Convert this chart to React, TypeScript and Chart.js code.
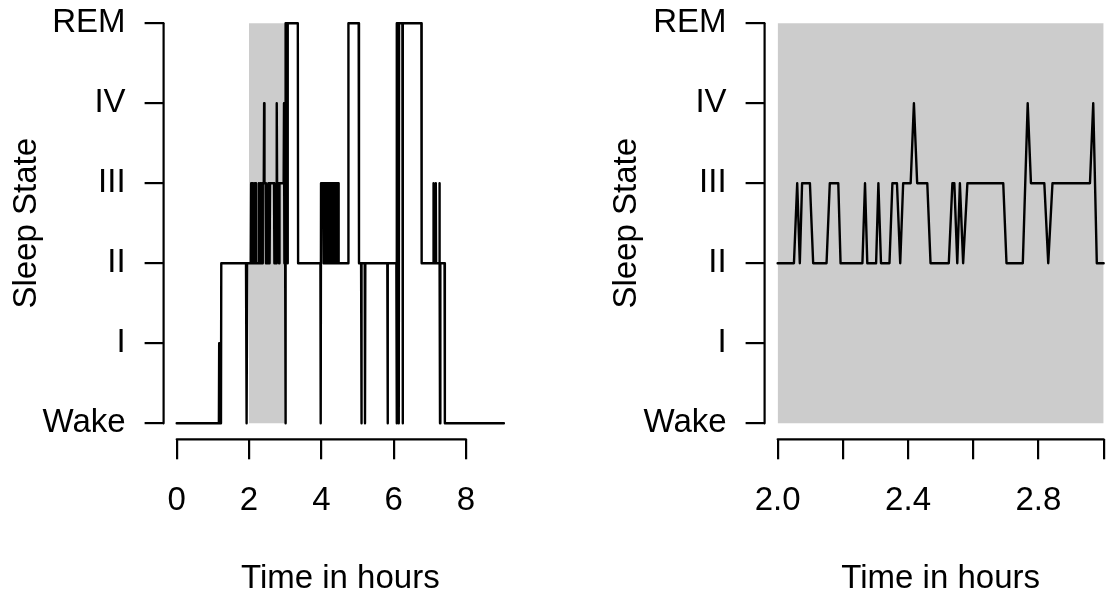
import React, { useEffect, useRef } from "react";
import { Chart, registerables } from "chart.js";

Chart.register(...registerables);

// ---------- data ----------
const stateLabels = ["Wake", "I", "II", "III", "IV", "REM"];
const leftXTicks = [0, 2, 4, 6, 8];
const leftXTickLabels = ["0", "2", "4", "6", "8"];
const rightXTicks = [2.0, 2.2, 2.4, 2.6, 2.8, 3.0];
const rightXTickLabels = ["2.0", "", "2.4", "", "2.8", ""];
const shadeWindow = [2, 3];
const xTitle = "Time in hours";
const yTitle = "Sleep State";

// hypnogram vertices: time (hours) and state index (0 = Wake ... 5 = REM)
const timesA = [0, 1.167, 1.175, 1.183, 1.225, 1.233, 1.917, 1.925, 1.942, 1.95];
const statesA = [0, 0, 1, 0, 0, 2, 2, 0, 0, 2];

const timesB = [
  2.0, 2.05, 2.06, 2.068, 2.075, 2.099, 2.109, 2.15, 2.16, 2.186, 2.193, 2.26,
  2.268, 2.275, 2.302, 2.309, 2.317, 2.343, 2.352, 2.366, 2.376, 2.385, 2.408,
  2.418, 2.428, 2.459, 2.469, 2.525, 2.536, 2.542, 2.551, 2.559, 2.569, 2.582,
  2.692, 2.702, 2.752, 2.767, 2.777, 2.818, 2.83, 2.843, 2.958, 2.968, 2.979, 3.0,
];
const statesB = [
  2, 2, 3, 2, 3, 3, 2, 2, 3, 3, 2, 2, 3, 2, 2, 3, 2, 2, 3, 3, 2, 3, 3, 4, 3, 3,
  2, 2, 3, 3, 2, 3, 2, 3, 3, 2, 2, 4, 3, 3, 2, 3, 3, 4, 2, 2,
];

const timesC = [3.008, 3.017, 3.058, 3.067, 3.075, 3.35, 3.358, 3.975, 3.983, 3.992, 4.05];
const statesC = [0, 5, 5, 2, 5, 5, 2, 2, 0, 3, 3];

const timesD = [
  4.058, 4.067, 4.075, 4.083, 4.1, 4.108, 4.117, 4.133, 4.142, 4.158, 4.167,
  4.175, 4.192, 4.2, 4.217, 4.225, 4.233, 4.25, 4.258, 4.275, 4.283, 4.292,
  4.308, 4.317, 4.333, 4.342, 4.35, 4.367, 4.375, 4.392, 4.4, 4.408, 4.425,
  4.433, 4.45, 4.458, 4.467, 4.475, 4.483,
];
const statesD = [
  2, 3, 2, 3, 3, 2, 3, 2, 3, 3, 2, 3, 2, 3, 3, 2, 3, 2, 3, 3, 2, 3, 2, 3, 3, 2,
  3, 2, 3, 3, 2, 3, 2, 3, 3, 2, 3, 3, 2,
];

const timesE = [4.742, 4.75, 5.033, 5.042, 5.1, 5.108, 5.117, 5.2, 5.208, 5.217, 5.825, 5.833, 5.842];
const statesE = [2, 5, 5, 2, 2, 0, 2, 2, 0, 2, 2, 0, 2];

const timesF = [
  6.075, 6.083, 6.092, 6.133, 6.142, 6.15, 6.242, 6.25, 6.258, 6.767, 6.775,
  7.092, 7.1, 7.108, 7.158, 7.167, 7.175, 7.258, 7.267, 7.275, 7.283, 7.292,
  7.408, 7.417, 9.05,
];
const statesF = [2, 0, 5, 5, 0, 5, 5, 0, 5, 5, 2, 2, 3, 2, 2, 3, 2, 2, 3, 2, 0, 2, 2, 0, 0];

// ---------- helpers ----------
const allTimes = [...timesA, ...timesB, ...timesC, ...timesD, ...timesE, ...timesF];
const allStates = [...statesA, ...statesB, ...statesC, ...statesD, ...statesE, ...statesF];
const fullPoints = allTimes.map((t, i) => ({ x: t, y: allStates[i] }));
const zoomPoints = fullPoints.filter((p) => p.x >= shadeWindow[0] && p.x <= shadeWindow[1]);

const FONT = { family: "'Liberation Sans', Arial, Helvetica, sans-serif", size: 33, lineHeight: 1.2 };

const rAxisLines = {
  id: "rAxisLines",
  afterDraw(chart: any) {
    const { ctx, scales } = chart;
    const x = scales.x;
    const y = scales.y;
    ctx.save();
    ctx.strokeStyle = "#000";
    ctx.lineWidth = 2.2;
    ctx.lineCap = "round";
    const xt = x.ticks;
    ctx.beginPath();
    ctx.moveTo(x.getPixelForValue(xt[0].value), x.top);
    ctx.lineTo(x.getPixelForValue(xt[xt.length - 1].value), x.top);
    ctx.stroke();
    const yt = y.ticks;
    ctx.beginPath();
    ctx.moveTo(y.right, y.getPixelForValue(yt[0].value));
    ctx.lineTo(y.right, y.getPixelForValue(yt[yt.length - 1].value));
    ctx.stroke();
    ctx.restore();
  },
};

function buildConfig(
  points: { x: number; y: number }[],
  xTicks: number[],
  xLabels: string[],
  yWidth: number,
  padRight: number,
  yTitlePad: number
): any {
  const xs = points.map((p) => p.x);
  const lo = Math.min(...xs);
  const hi = Math.max(...xs);
  const ext = (hi - lo) * 0.04;
  const nStates = stateLabels.length - 1;
  return {
    type: "line",
    data: {
      datasets: [
        {
          data: points,
          borderColor: "#000",
          borderWidth: 2.4,
          pointRadius: 0,
          tension: 0,
          fill: false,
          borderCapStyle: "round",
          borderJoinStyle: "round",
          order: 1,
        },
        {
          data: [
            { x: shadeWindow[0], y: nStates },
            { x: shadeWindow[1], y: nStates },
          ],
          borderColor: "rgba(0,0,0,0)",
          borderWidth: 0,
          pointRadius: 0,
          backgroundColor: "#cccccc",
          fill: { value: 0 },
          order: 2,
        },
      ],
    },
    options: {
      animation: false,
      responsive: false,
      events: [],
      layout: { padding: { left: 0, right: padRight, top: 7.3, bottom: 0 } },
      plugins: { legend: { display: false }, tooltip: { enabled: false } },
      scales: {
        x: {
          type: "linear",
          min: lo - ext,
          max: hi + ext,
          bounds: "data",
          afterBuildTicks: (s: any) => {
            s.ticks = xTicks.map((v) => ({ value: v }));
          },
          afterFit: (s: any) => {
            s.height = 161.7;
            s.paddingLeft = 0;
            s.paddingRight = 0;
          },
          grid: { drawOnChartArea: false, drawTicks: true, tickLength: 20, color: "#000", lineWidth: 2.2 },
          border: { display: false },
          ticks: {
            autoSkip: false,
            maxRotation: 0,
            minRotation: 0,
            padding: 21.9,
            color: "#000",
            font: FONT,
            callback: (_v: any, i: number) => xLabels[i],
          },
          title: { display: true, text: xTitle, color: "#000", font: FONT, padding: { top: 0, bottom: 2.2 } },
        },
        y: {
          type: "linear",
          min: -0.04 * nStates,
          max: nStates * 1.04,
          bounds: "data",
          afterBuildTicks: (s: any) => {
            s.ticks = stateLabels.map((_l, i) => ({ value: i }));
          },
          afterFit: (s: any) => {
            s.width = yWidth;
            s.paddingTop = 0;
            s.paddingBottom = 0;
          },
          grid: { drawOnChartArea: false, drawTicks: true, tickLength: 19, color: "#000", lineWidth: 2.2 },
          border: { display: false },
          ticks: {
            autoSkip: false,
            padding: 19,
            color: "#000",
            font: FONT,
            callback: (_v: any, i: number) => stateLabels[i],
          },
          title: { display: true, text: yTitle, color: "#000", font: FONT, padding: { top: yTitlePad, bottom: 0 } },
        },
      },
    },
    plugins: [rAxisLines],
  };
}

export default function App() {
  const leftRef = useRef<HTMLCanvasElement | null>(null);
  const rightRef = useRef<HTMLCanvasElement | null>(null);

  useEffect(() => {
    const charts: Chart[] = [];
    if (leftRef.current) {
      charts.push(new Chart(leftRef.current, buildConfig(fullPoints, leftXTicks, leftXTickLabels, 163.6, 43, 6.7)));
    }
    if (rightRef.current) {
      charts.push(new Chart(rightRef.current, buildConfig(zoomPoints, rightXTicks, rightXTickLabels, 204.6, 3.3, 46.7)));
    }
    return () => charts.forEach((c) => c.destroy());
  }, []);

  return (
    <div
      style={{
        position: "absolute",
        left: 0,
        top: 0,
        width: 1106,
        height: 601,
        overflow: "hidden",
        background: "#fff",
      }}
    >
      <canvas ref={leftRef} width={560} height={601} style={{ position: "absolute", left: 0, top: 0, width: 560, height: 601 }} />
      <canvas ref={rightRef} width={560} height={601} style={{ position: "absolute", left: 560, top: 0, width: 560, height: 601 }} />
    </div>
  );
}
